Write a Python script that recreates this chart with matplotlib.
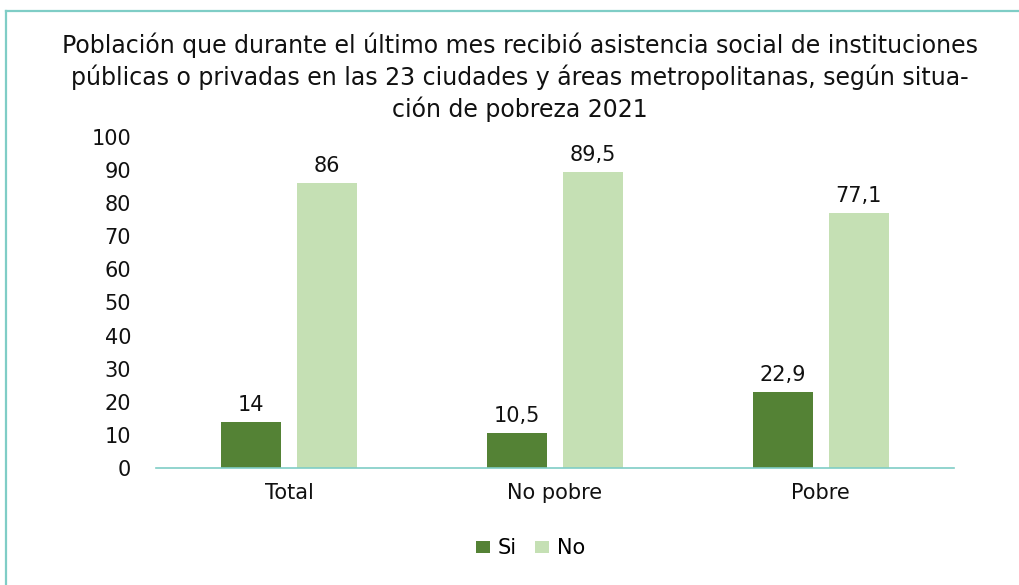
import numpy as np
import matplotlib
matplotlib.use("Agg")
import matplotlib.pyplot as plt
from matplotlib.lines import Line2D

plt.rcParams['font.family'] = ['DejaVu Sans']

# datos
categorias = ["Total", "No pobre", "Pobre"]
si = [14, 10.5, 22.9]
no = [86, 89.5, 77.1]
etiquetas_si = ["14", "10,5", "22,9"]
etiquetas_no = ["86", "89,5", "77,1"]

titulo = ("Población que durante el último mes recibió asistencia social de instituciones\n"
          "públicas o privadas en las 23 ciudades y áreas metropolitanas, según situa-\n"
          "ción de pobreza 2021")

verde_osc = "#548235"
verde_cla = "#c5e0b4"
teal = "#7fcdc6"

fig = plt.figure(figsize=(10.2, 5.85), dpi=100)
ax = fig.add_axes([0.153, 0.2, 0.782, 0.566])

x = np.arange(len(categorias))
ancho = 0.225
b1 = ax.bar(x - 0.143, si, ancho, color=verde_osc, label="Si")
b2 = ax.bar(x + 0.143, no, ancho, color=verde_cla, label="No")

for barra, txt in zip(b1, etiquetas_si):
    ax.annotate(txt, (barra.get_x() + barra.get_width() / 2, barra.get_height()),
                xytext=(0, 5), textcoords="offset points", ha="center", va="bottom",
                fontsize=15, color="#111111")
for barra, txt in zip(b2, etiquetas_no):
    ax.annotate(txt, (barra.get_x() + barra.get_width() / 2, barra.get_height()),
                xytext=(0, 5), textcoords="offset points", ha="center", va="bottom",
                fontsize=15, color="#111111")

ax.set_xlim(-0.5, 2.5)
ax.set_ylim(0, 100)
ax.set_yticks(range(0, 101, 10))
ax.set_xticks(x)
ax.set_xticklabels(categorias)
ax.tick_params(axis="y", length=0, pad=18, labelsize=15, labelcolor="#111111")
ax.tick_params(axis="x", length=0, pad=11, labelsize=15, labelcolor="#111111")
for lado in ["top", "right", "left"]:
    ax.spines[lado].set_visible(False)
ax.spines["bottom"].set_color(teal)
ax.spines["bottom"].set_linewidth(1.2)

fig.text(0.51, 0.868, titulo, ha="center", va="center", fontsize=17,
         linespacing=1.32, color="#111111")

leg = fig.legend(handles=[b1, b2], loc="center", bbox_to_anchor=(0.52, 0.063),
                 ncol=2, frameon=False, fontsize=15, handlelength=0.68,
                 handleheight=0.53, handletextpad=0.35, columnspacing=0.9)

# marco
fig.add_artist(Line2D([6.5 / 1020, 1], [1 - 10.5 / 585] * 2, color=teal, lw=1.6,
                      transform=fig.transFigure))
fig.add_artist(Line2D([6.5 / 1020] * 2, [0, 1 - 10.5 / 585], color=teal, lw=1.6,
                      transform=fig.transFigure))

fig.savefig("out.png", dpi=100)
